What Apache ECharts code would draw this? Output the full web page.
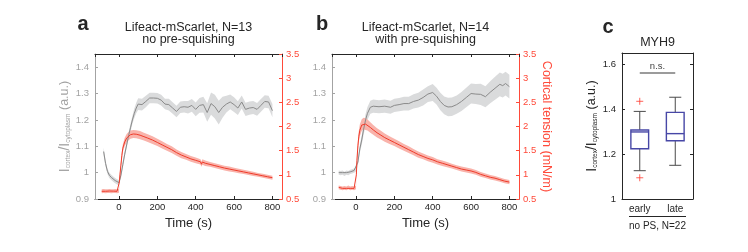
<!DOCTYPE html>
<html><head><meta charset="utf-8">
<script src="https://cdn.jsdelivr.net/npm/echarts@6/dist/echarts.min.js"></script>
<style>html,body{margin:0;padding:0;background:#fff}#c{width:748px;height:252px}</style>
</head><body><div id="c"></div>
<script>
// ---------- Panel a (no pre-squishing, N=13) ----------
const grayTimeA = [-80,-70,-60,-50,-40,-30,-20,-10,0,10,
  20,30,40,50,60,70,80,90,100,120,
  140,160,180,200,220,240,260,280,300,320,
  340,360,380,400,420,440,460,480,500,520,
  540,560,580,600,620,640,660,680,700,720,
  740,760,780,800];
const grayA = [1.08,1.035,1.005,0.99,0.982,0.975,0.97,0.965,0.962,0.99,
  1.03,1.07,1.105,1.14,1.17,1.2,1.225,1.245,1.26,1.258,
  1.27,1.283,1.283,1.282,1.275,1.26,1.258,1.245,1.232,1.248,
  1.25,1.248,1.255,1.24,1.255,1.258,1.228,1.262,1.25,1.228,
  1.248,1.26,1.268,1.258,1.245,1.268,1.24,1.245,1.247,1.24,
  1.255,1.27,1.268,1.235];
const graySemA = [0.015,0.012,0.01,0.01,0.01,0.01,0.01,0.01,0.01,0.012,
  0.012,0.012,0.012,0.012,0.015,0.015,0.018,0.02,0.022,0.022,
  0.022,0.02,0.02,0.02,0.02,0.02,0.022,0.022,0.022,0.022,
  0.022,0.024,0.024,0.026,0.028,0.03,0.035,0.042,0.045,0.045,
  0.04,0.032,0.028,0.028,0.026,0.025,0.025,0.025,0.025,0.024,
  0.024,0.024,0.024,0.025];
const redTimeA = [-90,-80,-70,-60,-50,-40,-30,-20,-10,0,
  2,5,10,15,20,30,40,50,60,75,
  90,110,130,150,175,200,225,250,275,300,
  325,350,375,400,425,430,435,450,475,500,
  525,550,575,600,625,650,675,700,725,750,
  775,800];
const redA = [0.66,0.665,0.66,0.662,0.665,0.66,0.663,0.665,0.66,0.67,
  0.85,1.0,1.2,1.4,1.55,1.68,1.76,1.8,1.83,1.845,
  1.84,1.82,1.79,1.76,1.72,1.67,1.62,1.57,1.52,1.46,
  1.41,1.37,1.33,1.3,1.27,1.22,1.265,1.24,1.215,1.19,
  1.165,1.14,1.12,1.1,1.08,1.06,1.04,1.02,1.0,0.98,
  0.96,0.94];
const redSemA = [0.04,0.04,0.04,0.04,0.04,0.04,0.04,0.04,0.04,0.04,
  0.05,0.06,0.07,0.075,0.08,0.085,0.085,0.085,0.085,0.085,
  0.085,0.085,0.08,0.08,0.08,0.075,0.075,0.07,0.07,0.065,
  0.065,0.06,0.06,0.06,0.055,0.055,0.055,0.055,0.05,0.05,
  0.05,0.05,0.05,0.045,0.045,0.045,0.045,0.045,0.04,0.04,
  0.04,0.04];

// ---------- Panel b (with pre-squishing, N=14) ----------
const grayTimeB = [-90,-80,-70,-60,-50,-40,-30,-20,-10,0,
  10,20,30,40,50,60,75,90,120,150,
  180,200,225,250,275,300,325,350,375,400,
  420,440,460,480,500,525,550,575,600,625,
  650,675,700,725,750,765,780,800];
const grayB = [1.0,0.998,1.0,0.995,1.0,0.998,1.003,1.005,1.008,1.012,
  1.04,1.09,1.124,1.165,1.2,1.225,1.248,1.252,1.25,1.252,
  1.248,1.255,1.258,1.262,1.262,1.27,1.275,1.285,1.298,1.304,
  1.29,1.27,1.255,1.249,1.25,1.258,1.27,1.285,1.3,1.298,
  1.297,1.288,1.305,1.32,1.335,1.33,1.338,1.326];
const graySemB = [0.008,0.008,0.008,0.008,0.008,0.008,0.008,0.008,0.008,0.008,
  0.012,0.015,0.018,0.02,0.022,0.024,0.025,0.025,0.025,0.025,
  0.025,0.025,0.025,0.026,0.026,0.027,0.028,0.03,0.03,0.032,
  0.032,0.033,0.034,0.035,0.035,0.035,0.036,0.037,0.038,0.038,
  0.04,0.04,0.042,0.044,0.045,0.045,0.045,0.045];
const redTimeB = [-90,-80,-70,-60,-50,-40,-30,-20,-10,0,
  2,5,10,15,20,30,40,50,60,75,
  90,110,130,150,175,200,225,250,275,300,
  325,350,375,400,425,450,475,500,525,550,
  575,600,625,650,675,700,725,750,775,800];
const redB = [0.74,0.73,0.72,0.73,0.72,0.74,0.72,0.73,0.72,0.74,
  1.0,1.3,1.6,1.8,1.92,2.03,2.06,2.05,2.03,1.98,
  1.93,1.87,1.82,1.77,1.72,1.67,1.62,1.57,1.52,1.47,
  1.42,1.38,1.34,1.31,1.27,1.24,1.21,1.18,1.15,1.12,
  1.1,1.08,1.05,1.01,0.98,0.95,0.93,0.9,0.87,0.85];
const redSemB = [0.04,0.04,0.04,0.04,0.04,0.04,0.04,0.04,0.04,0.04,
  0.06,0.08,0.1,0.11,0.12,0.12,0.12,0.12,0.115,0.11,
  0.1,0.095,0.09,0.085,0.08,0.075,0.075,0.07,0.07,0.065,
  0.065,0.06,0.06,0.06,0.055,0.055,0.055,0.05,0.05,0.05,
  0.05,0.05,0.048,0.048,0.046,0.046,0.045,0.045,0.045,0.045];

// ---------- Panel c (MYH9 box plot) ----------
const boxCats = ['early', 'late'];
// [min, Q1, median, Q3, max]
const boxEarly = [1.126, 1.2235, 1.2985, 1.3075, 1.39];
const boxLate = [1.15, 1.2595, 1.291, 1.3855, 1.453];
const outliers = [['early', 1.435], ['early', 1.0945]];
const nsLevel = 1.56;

// ---------- styling ----------
const FONT = '"Liberation Sans", Arial, Helvetica, sans-serif';
const GRAY_AX = '#a3a3a3';
const RED_AX = '#ff4a3a';
const BLACK = '#262626';
const GRAY_LINE = '#8a8a8a';
const GRAY_BAND = '#dadbdc';
const RED_LINE = '#ef3b2a';
const RED_BAND = '#f9b3ab';
const BOX_BLUE = '#4747a6';

const chart = echarts.init(document.getElementById('c'), null, {renderer: 'canvas'});

// shaded mean +/- sem band, drawn as one polygon through the axes' own coordinate mapping
function bandSeries(t, v, sem, xi, yi, color) {
  const rows = t.map((x, i) => [x, v[i] - sem[i], v[i] + sem[i]]);
  return {
    type: 'custom', xAxisIndex: xi, yAxisIndex: yi, silent: true,
    encode: {x: 0, y: [1, 2]},
    data: rows,
    renderItem: function (params, api) {
      if (params.dataIndex !== 0) return null;
      const pts = [];
      for (let i = 0; i < rows.length; i++) pts.push(api.coord([rows[i][0], rows[i][1]]));
      for (let i = rows.length - 1; i >= 0; i--) pts.push(api.coord([rows[i][0], rows[i][2]]));
      return {type: 'polygon', shape: {points: pts}, style: {fill: color, stroke: null}};
    }
  };
}
function meanSeries(t, v, xi, yi, color) {
  return {type: 'line', xAxisIndex: xi, yAxisIndex: yi, symbol: 'none', silent: true,
    lineStyle: {color: color, width: 1}, data: t.map((x, i) => [x, v[i]])};
}

function timeAxes(gi) {
  const base = {gridIndex: gi, type: 'value', min: -125, max: 850, splitLine: {show: false}};
  return [
    Object.assign({}, base, {position: 'bottom',
      axisLine: {onZero: false, lineStyle: {color: BLACK, width: 1}},
      axisTick: {inside: true, length: 3, lineStyle: {color: BLACK}},
      axisLabel: {color: BLACK, fontSize: 9.5, fontFamily: FONT, margin: 3, showMinLabel: false, showMaxLabel: false},
      name: 'Time (s)', nameLocation: 'middle', nameGap: 13,
      nameTextStyle: {color: BLACK, fontSize: 13, fontFamily: FONT}}),
    Object.assign({}, base, {position: 'top',
      axisLine: {onZero: false, lineStyle: {color: BLACK, width: 1}},
      axisTick: {inside: true, length: 3, lineStyle: {color: BLACK}},
      axisLabel: {show: false}})
  ];
}
const ratioName = '{i|I}{s|cortex}{i|/I}{s|cytoplasm}{u| (a.u.)}';
function ratioRich(color) {
  return {
    i: {fontSize: 14, color: color, fontFamily: FONT},
    s: {fontSize: 6.5, color: color, fontFamily: FONT, verticalAlign: 'bottom'},
    u: {fontSize: 12.5, color: color, fontFamily: FONT}
  };
}
function leftRatioAxis(gi, withName) {
  const ax = {gridIndex: gi, type: 'value', position: 'left', min: 0.9, max: 1.45, interval: 0.1,
    splitLine: {show: false},
    axisLine: {show: true, onZero: false, lineStyle: {color: GRAY_AX}},
    axisTick: {show: true, inside: true, length: 3, lineStyle: {color: GRAY_AX}},
    axisLabel: {color: GRAY_AX, fontSize: 9.5, fontFamily: FONT, margin: 6, showMaxLabel: false}};
  if (withName) {
    ax.name = ratioName;
    ax.nameLocation = 'middle';
    ax.nameGap = 22;
    ax.nameTextStyle = {color: GRAY_AX, rich: ratioRich(GRAY_AX)};
  }
  return ax;
}
function rightTensionAxis(gi, withName) {
  const ax = {gridIndex: gi, type: 'value', position: 'right', min: 0.5, max: 3.5, interval: 0.5,
    splitLine: {show: false},
    axisLine: {show: true, onZero: false, lineStyle: {color: RED_AX}},
    axisTick: {show: true, inside: true, length: 3, lineStyle: {color: RED_AX}},
    axisLabel: {color: RED_AX, fontSize: 9.5, fontFamily: FONT, margin: 4}};
  if (withName) {
    ax.name = 'Cortical tension (mN/m)';
    ax.nameLocation = 'middle';
    ax.nameGap = 20;
    ax.nameRotate = -90;
    ax.nameTextStyle = {color: RED_AX, fontSize: 12.5, fontFamily: FONT};
  }
  return ax;
}

const xAxes = [].concat(timeAxes(0), timeAxes(1), [
  {gridIndex: 2, type: 'category', data: boxCats, position: 'bottom',
    axisLine: {onZero: false, lineStyle: {color: BLACK}}, axisTick: {show: false},
    axisLabel: {color: BLACK, fontSize: 10, fontFamily: FONT, margin: 5}},
  {gridIndex: 2, type: 'category', data: boxCats, position: 'top',
    axisLine: {onZero: false, lineStyle: {color: BLACK}}, axisTick: {show: false}, axisLabel: {show: false}}
]);
const yAxes = [
  leftRatioAxis(0, true), rightTensionAxis(0, false),
  leftRatioAxis(1, false), rightTensionAxis(1, true),
  {gridIndex: 2, type: 'value', position: 'left', min: 1, max: 1.65, interval: 0.2,
    splitLine: {show: false},
    axisLine: {show: true, onZero: false, lineStyle: {color: BLACK}},
    axisTick: {show: true, inside: true, length: 3, lineStyle: {color: BLACK}},
    axisLabel: {color: BLACK, fontSize: 9.5, fontFamily: FONT, margin: 6, showMaxLabel: false},
    name: ratioName, nameLocation: 'middle', nameGap: 22,
    nameTextStyle: {color: BLACK, rich: ratioRich(BLACK)}},
  {gridIndex: 2, type: 'value', position: 'right', min: 1, max: 1.65, interval: 0.2,
    splitLine: {show: false},
    axisLine: {show: true, onZero: false, lineStyle: {color: BLACK}},
    axisTick: {show: true, inside: true, length: 3, lineStyle: {color: BLACK}},
    axisLabel: {show: false}}
];

// box plot drawn through the category / value axes
const boxRows = [boxEarly, boxLate].map((b, i) => [i].concat(b));
const boxSeries = {
  type: 'custom', xAxisIndex: 4, yAxisIndex: 4, silent: true,
  encode: {x: 0, y: [1, 2, 3, 4, 5]},
  data: boxRows,
  renderItem: function (params, api) {
    const c = api.value(0);
    const pMin = api.coord([c, api.value(1)]);
    const pQ1 = api.coord([c, api.value(2)]);
    const pMed = api.coord([c, api.value(3)]);
    const pQ3 = api.coord([c, api.value(4)]);
    const pMax = api.coord([c, api.value(5)]);
    const band = api.size([1, 0])[0];
    const hw = band * 0.25, cw = band * 0.17, x = pMed[0];
    const wStyle = {stroke: '#4a4a4a', lineWidth: 1};
    const bStyle = {stroke: BOX_BLUE, lineWidth: 1.4, fill: null};
    return {type: 'group', children: [
      {type: 'line', shape: {x1: x, y1: pMax[1], x2: x, y2: pQ3[1]}, style: wStyle},
      {type: 'line', shape: {x1: x, y1: pQ1[1], x2: x, y2: pMin[1]}, style: wStyle},
      {type: 'line', shape: {x1: x - cw, y1: pMax[1], x2: x + cw, y2: pMax[1]}, style: wStyle},
      {type: 'line', shape: {x1: x - cw, y1: pMin[1], x2: x + cw, y2: pMin[1]}, style: wStyle},
      {type: 'rect', shape: {x: x - hw, y: pQ3[1], width: 2 * hw, height: pQ1[1] - pQ3[1]}, style: bStyle},
      {type: 'line', shape: {x1: x - hw, y1: pMed[1], x2: x + hw, y2: pMed[1]}, style: bStyle}
    ]};
  }
};

const series = [
  bandSeries(grayTimeA, grayA, graySemA, 0, 0, GRAY_BAND),
  meanSeries(grayTimeA, grayA, 0, 0, GRAY_LINE),
  bandSeries(redTimeA, redA, redSemA, 0, 1, RED_BAND),
  meanSeries(redTimeA, redA, 0, 1, RED_LINE),
  bandSeries(grayTimeB, grayB, graySemB, 2, 2, GRAY_BAND),
  meanSeries(grayTimeB, grayB, 2, 2, GRAY_LINE),
  bandSeries(redTimeB, redB, redSemB, 2, 3, RED_BAND),
  meanSeries(redTimeB, redB, 2, 3, RED_LINE),
  boxSeries,
  {type: 'scatter', xAxisIndex: 4, yAxisIndex: 4, silent: true,
    symbol: 'path://M5,0 L5,10 M0,5 L10,5', symbolSize: 7,
    itemStyle: {color: 'rgba(0,0,0,0)', borderColor: '#ff3b2f', borderWidth: 1},
    data: outliers,
    markLine: {silent: true, symbol: 'none',
      lineStyle: {color: '#7a7a7a', type: 'solid', width: 1.5},
      label: {show: true, position: 'middle', formatter: 'n.s.', color: '#444', fontSize: 9.5, fontFamily: FONT, distance: 2},
      data: [[{coord: [boxCats[0], nsLevel]}, {coord: [boxCats[1], nsLevel]}]]}}
];

function txt(text, x, y, size, weight, color, extra) {
  return {type: 'text', x: x, y: y, silent: true,
    style: Object.assign({text: text, fill: color || BLACK, fontSize: size, fontWeight: weight || 'normal',
      fontFamily: FONT, align: 'center', textAlign: 'center', verticalAlign: 'middle', textVerticalAlign: 'middle'}, extra || {})};
}

chart.setOption({
  animation: false,
  backgroundColor: '#fff',
  grid: [
    {left: 95, top: 54, width: 187, height: 145, containLabel: false},
    {left: 332, top: 54, width: 187, height: 145, containLabel: false},
    {left: 622, top: 53, width: 71, height: 146, containLabel: false}
  ],
  xAxis: xAxes,
  yAxis: yAxes,
  series: series,
  graphic: [
    txt('a', 83, 24, 20, 'bold'),
    txt('b', 322, 24, 20, 'bold'),
    txt('c', 608, 27, 20, 'bold'),
    txt('Lifeact-mScarlet, N=13\nno pre-squishing', 188.5, 33.5, 12.5, 'normal', BLACK, {lineHeight: 11.5}),
    txt('Lifeact-mScarlet, N=14\nwith pre-squishing', 425.5, 33.5, 12.5, 'normal', BLACK, {lineHeight: 11.5}),
    txt('MYH9', 657.5, 43, 12.5),
    {type: 'line', silent: true, shape: {x1: 629, y1: 216.5, x2: 686, y2: 216.5}, style: {stroke: BLACK, lineWidth: 1}},
    txt('no PS, N=22', 657.5, 226, 10)
  ]
});
</script></body></html>
